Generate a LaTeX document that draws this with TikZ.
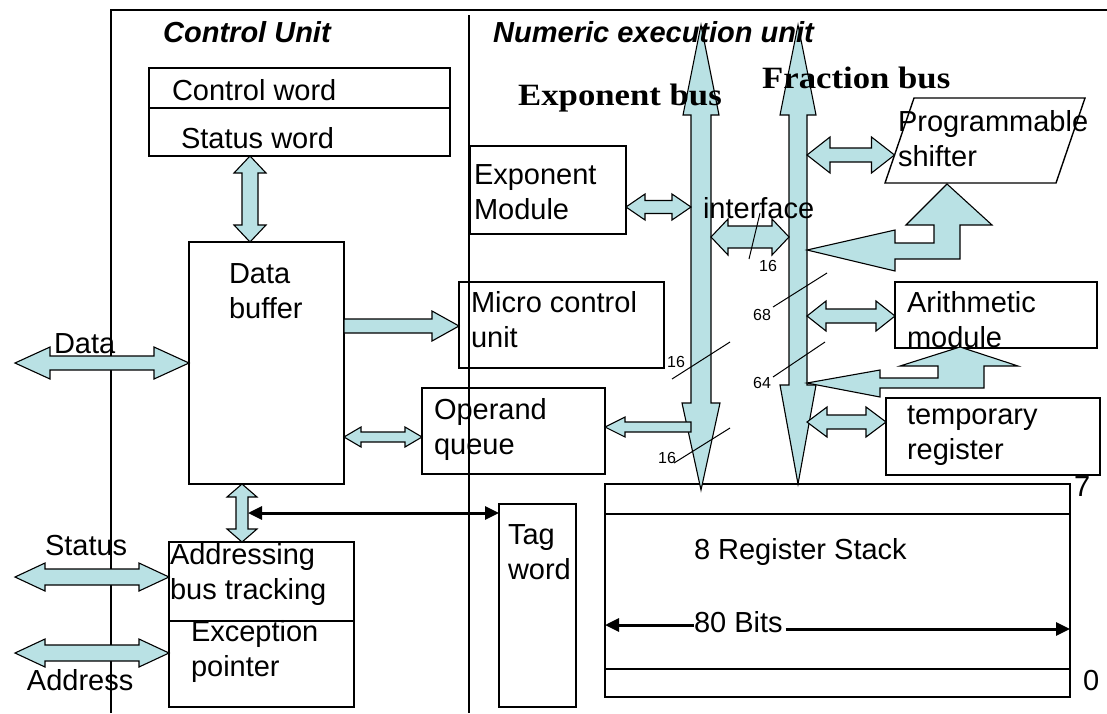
\documentclass[tikz,border=0pt]{standalone}
\usepackage{fontspec}
\setmainfont{Liberation Sans}
\newfontfamily\busfont[FakeStretch=1.12]{Liberation Serif}
\usetikzlibrary{calc,fit,arrows.meta}
\definecolor{busblue}{RGB}{185,225,228}
\tikzset{
 box/.style={draw, line width=1.4pt, inner sep=0pt, outer sep=0pt},
 txt/.style={inner sep=0pt, outer sep=0pt, anchor=west, align=left, yshift=-3pt, font=\fontsize{29}{35}\selectfont},
 headl/.style={inner sep=0pt, anchor=west, font=\fontsize{29}{32}\selectfont\bfseries\itshape},
 busl/.style={inner sep=0pt, anchor=west, font=\busfont\bfseries\fontsize{31}{36}\selectfont},
 small/.style={inner sep=0pt, font=\fontsize{16}{18}\selectfont},
 fat/.style={draw=black, line width=1.1pt, fill=busblue, line join=miter},
 slash/.style={line width=1pt},
 blk/.style={line width=3pt},
 hfat/.style n args={3}{to path={let \p1=(\tikztostart), \p2=(\tikztotarget), \n1={sign(\x2-\x1)*#3} in
   (\x1,\y1) -- (\x1+\n1,\y1+#2) -- (\x1+\n1,\y1+#1) -- (\x2-\n1,\y1+#1) -- (\x2-\n1,\y1+#2) -- (\x2,\y1)
   -- (\x2-\n1,\y1-#2) -- (\x2-\n1,\y1-#1) -- (\x1+\n1,\y1-#1) -- (\x1+\n1,\y1-#2) -- cycle}},
 hfatone/.style n args={3}{to path={let \p1=(\tikztostart), \p2=(\tikztotarget), \n1={sign(\x2-\x1)*#3} in
   (\x1,\y1+#1) -- (\x2-\n1,\y1+#1) -- (\x2-\n1,\y1+#2) -- (\x2,\y1)
   -- (\x2-\n1,\y1-#2) -- (\x2-\n1,\y1-#1) -- (\x1,\y1-#1) -- cycle}},
 vfat/.style n args={3}{to path={let \p1=(\tikztostart), \p2=(\tikztotarget), \n1={sign(\y2-\y1)*#3} in
   (\x1,\y1) -- (\x1+#2,\y1+\n1) -- (\x1+#1,\y1+\n1) -- (\x1+#1,\y2-\n1) -- (\x1+#2,\y2-\n1) -- (\x1,\y2)
   -- (\x1-#2,\y2-\n1) -- (\x1-#1,\y2-\n1) -- (\x1-#1,\y1+\n1) -- (\x1-#2,\y1+\n1) -- cycle}},
}
\begin{document}
\begin{tikzpicture}[x=1pt,y=-1pt]
\useasboundingbox (0,0) rectangle (1107,713);
% frame and divider
\draw[line width=1.5pt] (111,713) -- (111,10) -- (1107,10);
\draw[line width=2.8pt] (469,15) coordinate (divtop) -- (469,713) coordinate (divbot);
\draw[white, line width=0.6pt, dash pattern=on 1pt off 3pt] ([xshift=1pt]divtop) -- ([xshift=1pt]divbot);

% boxes
\node[box, fit={(149,68) (450,108)}] (cword) {};
\node[box, fit={(149,108) (450,156)}] (sword) {};
\node[box, fit={(189,242) (344,484)}] (dbuf) {};
\node[box, fit={(459,282) (664,368)}] (mcu) {};
\node[box, fit={(422,388) (605,474)}] (oq) {};
\node[box, fit={(470,146) (626,234)}] (expm) {};
\node[box, fit={(895,282) (1097,348)}] (arith) {};
\node[box, fit={(886,398) (1100,475)}] (temp) {};
\node[box, fit={(169,542) (354,621)}] (addr) {};
\node[box, fit={(169,621) (354,707)}] (excp) {};
\node[box, fit={(499,504) (576,707)}] (tag) {};
\node[box, fit={(605,484) (1070,697)}] (stack) {};
\draw[line width=1.4pt] (stack.west |- 0,514) -- (stack.east |- 0,514);
\draw[line width=1.4pt] (stack.west |- 0,669) -- (stack.east |- 0,669);
\draw[line width=1.4pt] (914,98) coordinate (shTL) -- (1085,98) coordinate (shTR)
  -- (1056,183) coordinate (shBR) -- (885,183) coordinate (shBL) -- cycle;
\coordinate (shL) at (894.5,155);

% bus edges
\coordinate (ebW) at (691,0);
\coordinate (ebE) at (711,0);
\coordinate (fbW) at (789,0);
\coordinate (fbE) at (807,0);

% buses
\draw[fat] (701,25) -- (719,115) -- (711,115) -- (711,403) -- (720,403) -- (701,490)
  -- (682,403) -- (691,403) -- (691,115) -- (683,115) -- cycle;
\draw[fat] (798,25) -- (816,115) -- (807,115) -- (807,385) -- (816,385) -- (798,484)
  -- (780,385) -- (789,385) -- (789,115) -- (780,115) -- cycle;

% bent arrows
\draw[fat] (fbE |- 0,250) -- (895,230) -- (895,243) -- (934,243) -- (934,225) -- (906,225)
  -- (947,184) -- (992,225) -- (960,225) -- (960,259) -- (895,259) -- (895,271) -- cycle;
\draw[fat] (fbE |- 0,383) -- (880,370) -- (880,378) -- (938,378) -- (938,366) -- (900,366)
  -- (960,347) -- (1018,366) -- (984,366) -- (984,388) -- (880,388) -- (880,397) -- cycle;

% fat connectors
\coordinate (dataext) at (15,363);
\coordinate (statext) at (15,577);
\coordinate (addrext) at (15,653);
\draw[fat] (sword.south -| 250,0) to[vfat={8}{16}{17}] (dbuf.north -| 250,0);
\draw[fat] (dataext) to[hfat={7}{16}{35}] (dbuf.west |- dataext);
\draw[fat] (dbuf.east |- 0,326) to[hfatone={7}{15}{27}] (mcu.west |- 0,326);
\draw[fat] (dbuf.east |- 0,437) to[hfat={5}{10}{17}] (oq.west |- 0,437);
\draw[fat] (ebW |- 0,427) to[hfatone={5}{10}{20}] (oq.east |- 0,427);
\draw[fat] (dbuf.south -| 242,0) to[vfat={6}{15}{13}] (addr.north -| 242,0);
\draw[fat] (statext) to[hfat={8}{14}{30}] (addr.west |- statext);
\draw[fat] (addrext) to[hfat={8}{14}{30}] (excp.west |- addrext);
\draw[fat] (expm.east |- 0,207) to[hfat={6.5}{13}{19}] (ebW |- 0,207);
\draw[fat] (ebE |- 0,237) to[hfat={11}{18}{17}] (fbW |- 0,237);
\draw[fat] (fbE |- shL) to[hfat={7}{18}{23}] (shL);
\draw[fat] (fbE |- 0,316) to[hfat={7}{15}{19}] (arith.west |- 0,316);
\draw[fat] (fbE |- 0,422) to[hfat={7}{15}{20}] (temp.west |- 0,422);

% black arrows
\coordinate (tagarr) at (248,513);
\draw[blk, {Triangle[length=14pt,width=13pt]}-{Triangle[length=14pt,width=13pt]}] (tagarr) -- (tag.west |- tagarr);

% texts
\node[headl] (ctrlU) at (163,32) {Control Unit};
\node[headl] (numU) at (493,32) {Numeric execution unit};
\node[busl] (expbusL) at (518,98) {Exponent bus};
\node[busl] (fracbusL) at (762,78) {Fraction bus};
\node[txt] (cwT) at (172,90) {Control word\strut};
\node[txt] (swT) at (181,138) {Status word\strut};
\node[txt] (dbT) at (229,291) {Data\strut\\buffer\strut};
\node[txt] (mcuT) at (471,320) {Micro control\strut\\unit\strut};
\node[txt] (oqT) at (434,427) {Operand\strut\\queue\strut};
\node[txt] (expT) at (474,192) {Exponent\strut\\Module\strut};
\node[txt] (arT) at (907,320) {Arithmetic\strut\\module\strut};
\node[txt] (tmT) at (907,432) {temporary\strut\\register\strut};
\node[txt] (shT) at (898,139) {Programmable\strut\\shifter\strut};
\node[txt] (adT) at (170,572) {Addressing\strut\\bus tracking\strut};
\node[txt] (exT) at (191,649) {Exception\strut\\pointer\strut};
\node[txt] (tgT) at (508,552) {Tag\strut\\word\strut};
\node[txt] (rsT) at (694,549) {8 Register Stack\strut};
\node[txt] (bits) at (694,622) {80 Bits\strut};
\node[txt] (ifT) at (703,208) {interface\strut};
\node[txt] (dataL) at (54,343) {Data\strut};
\node[txt] (statL) at (45,545) {Status\strut};
\node[txt] (addrL) at (27,680) {Address\strut};
\node[txt] (n7) at (1074,486) {7\strut};
\node[txt] (n0) at (1083,680) {0\strut};

% 80 bits arrows
\draw[blk, -{Triangle[length=14pt,width=13pt]}] (bits.west) -- (stack.west |- bits.west);
\draw[blk, -{Triangle[length=14pt,width=13pt]}] ([xshift=3pt]bits.east |- 0,629) -- (stack.east |- 0,629);

% width slashes
\draw[slash] (760,213) coordinate (s1a) -- (749,259) coordinate (s1b);
\node[small] (w1) at (768,266) {16};
\draw[slash] (827,273) coordinate (s2a) -- (773,307) coordinate (s2b);
\node[small] (w2) at (762,315) {68};
\draw[slash] (825,342) coordinate (s3a) -- (773,377) coordinate (s3b);
\node[small] (w3) at (762,383) {64};
\draw[slash] (730,342) coordinate (s4a) -- (672,379) coordinate (s4b);
\node[small] (w4) at (676,362) {16};
\draw[slash] (730,428) coordinate (s5a) -- (674,463) coordinate (s5b);
\node[small] (w5) at (667,458) {16};
\end{tikzpicture}
\end{document}
